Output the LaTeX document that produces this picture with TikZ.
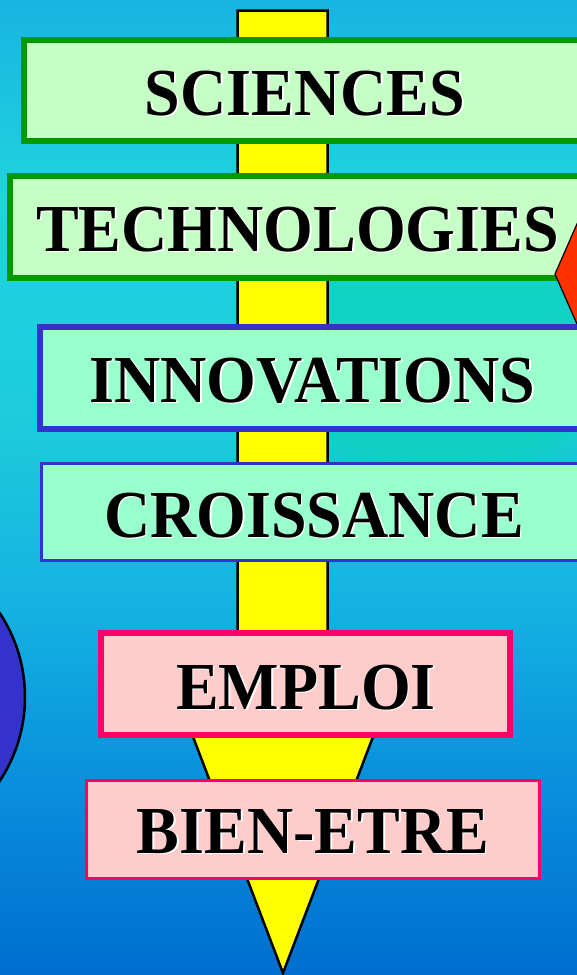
\documentclass[tikz,border=0pt]{standalone}
\usepackage{fontspec}
\setmainfont{Liberation Serif}
\usetikzlibrary{fadings}

\definecolor{bgbot}{HTML}{006ECF}
\definecolor{bgB}{HTML}{0990DD}
\definecolor{bgC}{HTML}{15B2E1}
\definecolor{bgD}{HTML}{1DCDDC}
\definecolor{bgE}{HTML}{1FD3DF}
\definecolor{bgtop}{HTML}{18B4E1}
\definecolor{tealspot}{HTML}{0ED2BE}
\definecolor{greenline}{HTML}{009900}
\definecolor{greenfill}{HTML}{C6FFC6}
\definecolor{mintfill}{HTML}{99FFCC}
\definecolor{blueline}{HTML}{3333CC}
\definecolor{pinkline}{HTML}{FF0066}
\definecolor{pinkfill}{HTML}{FFCCCC}
\definecolor{arrowyellow}{HTML}{FFFF00}
\definecolor{redkite}{HTML}{FF3300}

\pgfdeclareverticalshading{skyback}{100bp}{%
  color(0bp)=(bgbot); color(25bp)=(bgbot); color(35bp)=(bgB);
  color(44bp)=(bgC); color(54bp)=(bgD); color(65bp)=(bgE);
  color(75bp)=(bgtop); color(100bp)=(bgtop)}

\tikzset{
  thickgreen/.style={draw=greenline, fill=greenfill, line width=6pt},
  thickblue/.style={draw=blueline, fill=mintfill, line width=6pt},
  thinblue/.style={draw=blueline, fill=mintfill, line width=2.8pt},
  thickpink/.style={draw=pinkline, fill=pinkfill, line width=6pt},
  thinpink/.style={draw=pinkline, fill=pinkfill, line width=2.8pt},
  label text/.style={font=\fontsize{64}{64}\selectfont\bfseries, inner sep=0pt, anchor=base},
  label shadow/.style={label text, text=white, xshift=1.6pt, yshift=-1.6pt},
}

% a word printed in black over a white copy shifted down and to the right
\newcommand{\shadowword}[3]{%
  \node[label shadow] (#1s) at (#2) {\scalebox{1}[1.05]{#3}};
  \node[label text] (#1) at (#2) {\scalebox{1}[1.05]{#3}};
}

\begin{document}
\begin{tikzpicture}[x=1pt, y=-1pt]
  \useasboundingbox (0,0) rectangle (577,975);
  \clip (0,0) rectangle (577,975);

  % background
  \shade[shading=skyback] (0,0) rectangle (577,975);
  \fill[tealspot, opacity=0.75, path fading=circle with fuzzy edge 20 percent]
    (440,350) ellipse [x radius=220, y radius=140];

  % large yellow arrow running down the page
  \draw[fill=arrowyellow, line width=2.5pt, line join=miter]
    (237.5,10.5) -- (327.5,10.5) -- (327.5,700) -- (387,700)
    -- (283,973) -- (179,700) -- (237.5,700) -- cycle;

  % blue disc at the left edge
  \draw[fill=blueline, line width=2.5pt] (-127,697) circle [radius=152];

  % boxes
  \draw[thickgreen] (24,40) rectangle (620,141);
  \draw[thickgreen] (10,176) rectangle (620,278);

  % red kite at the right edge
  \draw[fill=redkite, line width=1.2pt, line join=miter]
    (555,274) -- (620,126) -- (620,422) -- cycle;

  \draw[thickblue] (40,327) rectangle (620,429);
  \draw[thinblue]  (41.4,463.4) rectangle (620,560.6);
  \draw[thickpink] (101,633) rectangle (510,735);
  \draw[thinpink]  (86.4,780.4) rectangle (539.6,878.6);

  % labels
  \shadowword{sci}{305,115}{SCIENCES}
  \shadowword{tech}{297.5,251}{TECHNOLOGIES}
  \shadowword{inno}{312.5,402}{INNOVATIONS}
  \shadowword{croi}{314,537}{CROISSANCE}
  \shadowword{empl}{306,709}{EMPLOI}
  \shadowword{bien}{313,853}{BIEN-ETRE}
\end{tikzpicture}
\end{document}
